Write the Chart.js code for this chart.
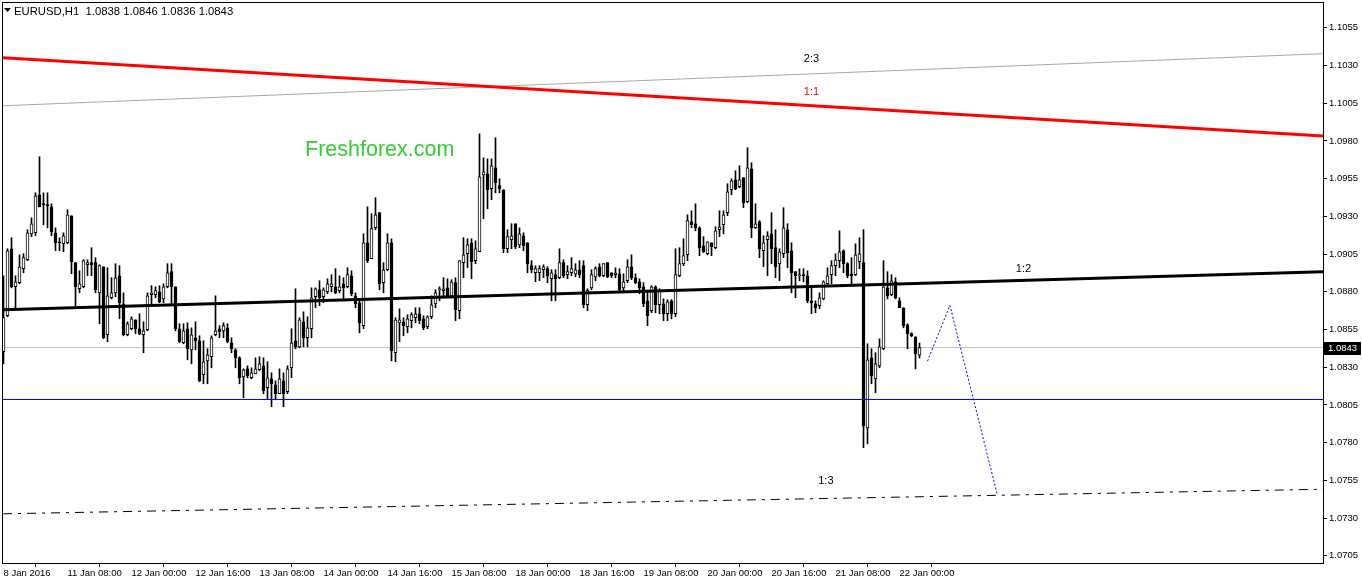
<!DOCTYPE html>
<html>
<head>
<meta charset="utf-8">
<title>EURUSD,H1</title>
<script src="https://cdn.jsdelivr.net/npm/chart.js@4.4.1/dist/chart.umd.min.js"></script>
<style>
  html, body { margin: 0; padding: 0; background: #fff; }
  #wrap { position: relative; width: 1362px; height: 584px; }
</style>
</head>
<body>
<div id="wrap"><canvas id="chart"></canvas></div>
<script>
const symbolTitle = 'EURUSD,H1';
const watermark = 'Freshforex.com';

// hourly candles, 8 Jan 16:00 .. 22 Jan 04:00
const opens = [
  1.08402,1.08641,1.09085,1.08833,1.08860,1.08953,1.09012,1.09184,1.09191,1.09443,
  1.09383,1.09377,1.09363,1.09191,1.09131,1.09118,1.09125,1.09304,1.08993,1.08820,
  1.08833,1.08979,1.08993,1.08993,1.08793,1.08966,1.08515,1.08760,1.08793,1.08906,
  1.08720,1.08515,1.08555,1.08614,1.08555,1.08515,1.08548,1.08780,1.08780,1.08800,
  1.08753,1.08833,1.08933,1.08833,1.08555,1.08462,1.08555,1.08415,1.08495,1.08475,
  1.08250,1.08342,1.08369,1.08515,1.08555,1.08541,1.08561,1.08462,1.08415,1.08362,
  1.08236,1.08289,1.08230,1.08256,1.08283,1.08309,1.08164,1.08223,1.08183,1.08124,
  1.08210,1.08137,1.08296,1.08475,1.08435,1.08601,1.08495,1.08555,1.08767,1.08813,
  1.08767,1.08800,1.08833,1.08833,1.08807,1.08853,1.08833,1.08906,1.08773,1.08727,
  1.08575,1.09125,1.09019,1.09224,1.09324,1.08860,1.08946,1.09125,1.08396,1.08594,
  1.08601,1.08568,1.08608,1.08628,1.08654,1.08621,1.08568,1.08634,1.08720,1.08813,
  1.08807,1.08826,1.08773,1.08860,1.08674,1.08993,1.09052,1.09125,1.09006,1.09065,
  1.09575,1.09582,1.09483,1.09622,1.09503,1.09476,1.09085,1.09145,1.09251,1.09111,
  1.09171,1.09125,1.08973,1.08926,1.08926,1.08946,1.08953,1.08886,1.08913,1.08893,
  1.08993,1.08913,1.08926,1.08919,1.08946,1.08973,1.08714,1.08826,1.08899,1.08966,
  1.08906,1.08993,1.08926,1.08913,1.08919,1.08826,1.08873,1.08966,1.08893,1.08866,
  1.08833,1.08740,1.08674,1.08833,1.08714,1.08720,1.08654,1.08740,1.08654,1.08906,
  1.08986,1.09045,1.09264,1.09251,1.09224,1.09105,1.09052,1.09125,1.09092,1.09211,
  1.09244,1.09324,1.09476,1.09542,1.09496,1.09556,1.09397,1.09615,1.09224,1.09264,
  1.09072,1.09145,1.09184,1.09092,1.08986,1.09052,1.09211,1.09072,1.08933,1.08906,
  1.08913,1.08906,1.08740,1.08720,1.08707,1.08753,1.08853,1.08913,1.08973,1.09006,
  1.09072,1.08986,1.08919,1.08913,1.08999,1.08993,1.07898,1.08362,1.08223,1.08309,
  1.08422,1.08826,1.08780,1.08866,1.08740,1.08694,1.08581,1.08522,1.08502,1.08380
];
const highs = [
  1.08906,1.09085,1.09158,1.08906,1.09045,1.09052,1.09211,1.09290,1.09456,1.09695,
  1.09456,1.09456,1.09383,1.09224,1.09158,1.09191,1.09344,1.09304,1.08993,1.08939,
  1.09012,1.09012,1.09092,1.09026,1.08979,1.08966,1.08959,1.08893,1.08986,1.08973,
  1.08793,1.08601,1.08634,1.08614,1.08654,1.08601,1.08793,1.08840,1.08833,1.08840,
  1.08853,1.08986,1.08986,1.08833,1.08588,1.08588,1.08594,1.08561,1.08601,1.08508,
  1.08475,1.08422,1.08508,1.08773,1.08575,1.08594,1.08588,1.08495,1.08422,1.08369,
  1.08289,1.08309,1.08296,1.08362,1.08369,1.08362,1.08336,1.08263,1.08210,1.08289,
  1.08263,1.08309,1.08555,1.08820,1.08628,1.08667,1.08634,1.08826,1.08826,1.08873,
  1.08826,1.08886,1.08913,1.08953,1.08906,1.08893,1.08959,1.08939,1.08793,1.08753,
  1.09184,1.09363,1.09317,1.09423,1.09324,1.08993,1.09184,1.09151,1.08628,1.08687,
  1.08628,1.08648,1.08661,1.08694,1.08694,1.08641,1.08641,1.08773,1.08813,1.08833,
  1.08893,1.08886,1.08880,1.08893,1.09006,1.09158,1.09151,1.09151,1.09138,1.09847,
  1.09688,1.09681,1.09681,1.09821,1.09549,1.09476,1.09211,1.09251,1.09251,1.09224,
  1.09191,1.09125,1.09006,1.08973,1.08973,1.08979,1.08966,1.08946,1.08946,1.09085,
  1.09012,1.08973,1.09026,1.08986,1.09006,1.09006,1.08820,1.08946,1.08966,1.08986,
  1.08986,1.08993,1.08926,1.08959,1.08953,1.08919,1.09012,1.09045,1.08919,1.08886,
  1.08860,1.08807,1.08840,1.08840,1.08820,1.08753,1.08747,1.08747,1.09085,1.09092,
  1.09151,1.09310,1.09337,1.09383,1.09231,1.09165,1.09131,1.09125,1.09231,1.09337,
  1.09337,1.09516,1.09549,1.09602,1.09635,1.09556,1.09755,1.09655,1.09383,1.09271,
  1.09171,1.09198,1.09324,1.09211,1.09085,1.09357,1.09251,1.09125,1.08933,1.08953,
  1.08953,1.08939,1.08840,1.08740,1.08793,1.08873,1.08959,1.09006,1.09052,1.09204,
  1.09078,1.08993,1.09026,1.09118,1.09158,1.09211,1.08455,1.08422,1.08396,1.08488,
  1.09006,1.08933,1.08913,1.08893,1.08760,1.08694,1.08588,1.08528,1.08502,1.08460
];
const lows = [
  1.08322,1.08634,1.08826,1.08687,1.08853,1.08926,1.09006,1.09165,1.09171,1.09363,
  1.09244,1.09224,1.09171,1.09072,1.09072,1.09065,1.09118,1.08919,1.08707,1.08793,
  1.08826,1.08906,1.08906,1.08793,1.08588,1.08489,1.08469,1.08753,1.08767,1.08621,
  1.08508,1.08508,1.08548,1.08522,1.08515,1.08396,1.08541,1.08707,1.08760,1.08727,
  1.08727,1.08826,1.08714,1.08541,1.08462,1.08455,1.08349,1.08322,1.08415,1.08203,
  1.08190,1.08190,1.08296,1.08508,1.08495,1.08495,1.08462,1.08396,1.08296,1.08190,
  1.08097,1.08230,1.08223,1.08256,1.08276,1.08124,1.08084,1.08038,1.08084,1.08124,
  1.08038,1.08124,1.08230,1.08422,1.08429,1.08435,1.08435,1.08495,1.08694,1.08707,
  1.08727,1.08787,1.08800,1.08787,1.08793,1.08740,1.08826,1.08773,1.08694,1.08528,
  1.08555,1.08993,1.09019,1.09211,1.08813,1.08793,1.08939,1.08342,1.08336,1.08469,
  1.08508,1.08528,1.08561,1.08594,1.08588,1.08548,1.08555,1.08621,1.08694,1.08740,
  1.08773,1.08760,1.08760,1.08608,1.08621,1.08893,1.08959,1.08886,1.08986,1.09065,
  1.09284,1.09350,1.09410,1.09456,1.09456,1.09059,1.09059,1.09085,1.09085,1.09092,
  1.09072,1.08926,1.08926,1.08866,1.08873,1.08893,1.08860,1.08740,1.08740,1.08886,
  1.08893,1.08886,1.08906,1.08899,1.08893,1.08694,1.08674,1.08813,1.08873,1.08899,
  1.08899,1.08893,1.08893,1.08893,1.08807,1.08807,1.08860,1.08880,1.08853,1.08787,
  1.08701,1.08575,1.08661,1.08661,1.08654,1.08608,1.08608,1.08621,1.08634,1.08899,
  1.08973,1.09006,1.09224,1.09204,1.09039,1.09059,1.09045,1.09039,1.09085,1.09165,
  1.09184,1.09304,1.09443,1.09476,1.09489,1.09357,1.09390,1.09158,1.09218,1.09026,
  1.08966,1.08906,1.08986,1.08893,1.08873,1.09026,1.08959,1.08793,1.08760,1.08873,
  1.08866,1.08727,1.08654,1.08661,1.08687,1.08747,1.08840,1.08853,1.08906,1.08959,
  1.08926,1.08893,1.08853,1.08906,1.08953,1.07766,1.07792,1.08190,1.08131,1.08296,
  1.08415,1.08753,1.08773,1.08753,1.08694,1.08561,1.08422,1.08502,1.08289,1.08360
];
const closes = [
  1.08628,1.09072,1.08833,1.08866,1.08966,1.09026,1.09191,1.09251,1.09436,1.09363,
  1.09377,1.09370,1.09198,1.09125,1.09125,1.09171,1.09310,1.08999,1.08833,1.08853,
  1.09006,1.08993,1.08979,1.08813,1.08973,1.08495,1.08773,1.08793,1.08893,1.08727,
  1.08515,1.08588,1.08621,1.08555,1.08522,1.08541,1.08773,1.08793,1.08807,1.08734,
  1.08833,1.08926,1.08833,1.08555,1.08469,1.08541,1.08422,1.08515,1.08475,1.08210,
  1.08336,1.08382,1.08495,1.08541,1.08535,1.08575,1.08469,1.08422,1.08362,1.08230,
  1.08283,1.08243,1.08263,1.08289,1.08322,1.08144,1.08230,1.08190,1.08124,1.08223,
  1.08124,1.08289,1.08462,1.08435,1.08614,1.08495,1.08561,1.08760,1.08820,1.08760,
  1.08813,1.08853,1.08853,1.08793,1.08833,1.08826,1.08913,1.08787,1.08720,1.08594,
  1.09125,1.09006,1.09218,1.09310,1.08853,1.08946,1.09125,1.08409,1.08614,1.08614,
  1.08575,1.08621,1.08648,1.08654,1.08608,1.08561,1.08634,1.08714,1.08793,1.08820,
  1.08820,1.08773,1.08866,1.08681,1.09006,1.09045,1.09111,1.08999,1.09085,1.09562,
  1.09595,1.09476,1.09635,1.09523,1.09483,1.09085,1.09165,1.09171,1.09098,1.09184,
  1.09105,1.08986,1.08946,1.08953,1.08953,1.08966,1.08906,1.08926,1.08886,1.08993,
  1.08906,1.08933,1.08953,1.08946,1.08913,1.08714,1.08807,1.08913,1.08953,1.08906,
  1.08986,1.08899,1.08906,1.08926,1.08813,1.08866,1.08966,1.08893,1.08860,1.08826,
  1.08720,1.08641,1.08833,1.08714,1.08813,1.08654,1.08734,1.08654,1.08913,1.08986,
  1.09039,1.09271,1.09244,1.09224,1.09092,1.09065,1.09131,1.09098,1.09204,1.09231,
  1.09310,1.09463,1.09536,1.09483,1.09542,1.09390,1.09622,1.09224,1.09251,1.09085,
  1.09125,1.09171,1.09085,1.08966,1.09065,1.09224,1.09059,1.08926,1.08906,1.08906,
  1.08906,1.08740,1.08727,1.08694,1.08760,1.08866,1.08906,1.08973,1.09012,1.09065,
  1.08986,1.08906,1.08906,1.09045,1.09052,1.07911,1.08349,1.08243,1.08322,1.08435,
  1.08833,1.08773,1.08873,1.08760,1.08694,1.08575,1.08522,1.08508,1.08389,1.08430
];

// axis ticks
const timeTickBars = [0, 16, 32, 48, 64, 80, 96, 112, 128, 144, 160, 176, 192, 208, 224];
const timeTickLabels = ['8 Jan 2016', '11 Jan 08:00', '12 Jan 00:00', '12 Jan 16:00', '13 Jan 08:00',
  '14 Jan 00:00', '14 Jan 16:00', '15 Jan 08:00', '18 Jan 00:00', '18 Jan 16:00', '19 Jan 08:00',
  '20 Jan 00:00', '20 Jan 16:00', '21 Jan 08:00', '22 Jan 00:00'];
const priceTicks = [1.0705, 1.0730, 1.0755, 1.0780, 1.0805, 1.0830, 1.0855, 1.0880,
  1.0905, 1.0930, 1.0955, 1.0980, 1.1005, 1.1030, 1.1055];

// drawn objects: prices at the left and right edge of the window
const line11 = [1.10351, 1.09832];   // red 1:1
const line23 = [1.10033, 1.10378];   // grey 2:3
const line12 = [1.08681, 1.08933];   // black 1:2
const line13 = [1.07328, 1.07491];   // dash-dot 1:3
const blueLevel = 1.08086;
const forecastBars = [231, 236.6, 248.4];
const forecastPrices = [1.0834, 1.0871, 1.0746];
const lineLabelTexts = ['2:3', '1:1', '1:2', '1:3'];
const lineLabelBars = [202, 202, 255, 205.6];
const lineLabelPrices = [1.10345, 1.10126, 1.08952, 1.07547];

const last = closes.length - 1;
const xMin = -0.125, xMax = 329.875;
const yMin = 1.07002, yMax = 1.10714;
const FONT = '"Liberation Sans", Arial, sans-serif';

const wickData = closes.map((c, i) => ({ x: i, y: [lows[i], highs[i]] }));
const bodyData = closes.map((c, i) => ({ x: i, y: [opens[i], c] }));
const bodyColors = closes.map((c, i) => c >= opens[i] ? '#ffffff' : '#000000');
const edgeLine = (p) => [{ x: xMin, y: p[0] }, { x: xMax, y: p[1] }];

const overlay = {
  id: 'overlay',
  afterDatasetsDraw(chart) {
    const { ctx, chartArea: a, scales: { x, y } } = chart;
    ctx.save();

    ctx.font = '11px ' + FONT;
    ctx.textAlign = 'center';
    ctx.textBaseline = 'middle';
    lineLabelTexts.forEach((t, k) => {
      ctx.fillStyle = t === '1:1' ? '#ff0000' : '#000000';
      ctx.fillText(t, x.getPixelForValue(lineLabelBars[k]), y.getPixelForValue(lineLabelPrices[k]));
    });

    ctx.font = '21.5px ' + FONT;
    ctx.fillStyle = '#32cd32';
    ctx.textAlign = 'left';
    ctx.textBaseline = 'alphabetic';
    ctx.fillText(watermark, a.left + 302, a.top + 153);

    // header: symbol and last bar OHLC
    ctx.fillStyle = '#000';
    ctx.beginPath();
    ctx.moveTo(4, 8); ctx.lineTo(11, 8); ctx.lineTo(7.5, 12);
    ctx.closePath();
    ctx.fill();
    ctx.font = '11.3px ' + FONT;
    const ohlc = [opens[last], highs[last], lows[last], closes[last]].map(v => v.toFixed(4)).join(' ');
    ctx.fillText(symbolTitle + '  ' + ohlc, 14, 14.5);

    // frame
    ctx.strokeStyle = '#000';
    ctx.lineWidth = 1;
    ctx.strokeRect(a.left - 0.5, a.top - 0.5, a.right - a.left + 1, a.bottom - a.top + 1);

    // last price box
    const py = Math.round(y.getPixelForValue(closes[last]));
    ctx.fillStyle = '#000';
    ctx.fillRect(a.right + 1, py - 6, 37, 13);
    ctx.fillStyle = '#fff';
    ctx.font = '9.5px ' + FONT;
    ctx.textBaseline = 'middle';
    ctx.fillText(closes[last].toFixed(4), a.right + 5, py + 0.5);
    ctx.restore();
  }
};

new Chart(document.getElementById('chart'), {
  type: 'bar',
  data: {
    datasets: [
      { type: 'line', data: edgeLine(line11), borderColor: '#ff0000', borderWidth: 3, pointRadius: 0, order: 0 },
      { type: 'line', data: edgeLine(line23), borderColor: '#a9a9a9', borderWidth: 1, pointRadius: 0, order: 0 },
      { type: 'line', data: edgeLine(line12), borderColor: '#000000', borderWidth: 3, pointRadius: 0, order: 0 },
      { type: 'line', data: edgeLine(line13), borderColor: '#000000', borderWidth: 1, borderDash: [9, 6, 3, 6], pointRadius: 0, order: 0 },
      { type: 'line', data: edgeLine([closes[last], closes[last]]), borderColor: '#c0c0c0', borderWidth: 1, pointRadius: 0, order: 4 },
      { type: 'line', data: edgeLine([blueLevel, blueLevel]), borderColor: '#0000c8', borderWidth: 1, pointRadius: 0, order: 0 },
      { type: 'line', data: forecastBars.map((b, k) => ({ x: b, y: forecastPrices[k] })),
        borderColor: '#0000ff', borderWidth: 1, borderDash: [2, 2], pointRadius: 0, order: 0 },
      { type: 'bar', data: wickData, backgroundColor: '#000', barThickness: 1, grouped: false, order: 3 },
      { type: 'bar', data: bodyData, backgroundColor: bodyColors, borderColor: '#000', borderWidth: 1,
        borderSkipped: false, barThickness: 3, minBarLength: 1, grouped: false, order: 2 }
    ]
  },
  options: {
    responsive: true,
    maintainAspectRatio: false,
    animation: false,
    events: [],
    devicePixelRatio: 1,
    layout: { padding: { left: 3, top: 3, right: 0, bottom: 0 } },
    plugins: { legend: { display: false }, tooltip: { enabled: false } },
    scales: {
      x: {
        type: 'linear', min: xMin, max: xMax, offset: false,
        afterFit: s => { s.height = 21; s.paddingLeft = 0; s.paddingRight = 0; },
        afterBuildTicks: s => { s.ticks = timeTickBars.map(v => ({ value: v })); },
        ticks: {
          autoSkip: false, maxRotation: 0, minRotation: 0, align: 'start', padding: 1,
          color: '#000', font: { family: FONT, size: 9.5 },
          callback: (v, i) => timeTickLabels[i]
        },
        grid: { drawOnChartArea: false, drawTicks: true, tickLength: 4, color: '#000' },
        border: { display: false }
      },
      y: {
        type: 'linear', position: 'right', min: yMin, max: yMax,
        afterFit: s => { s.width = 39; s.paddingTop = 0; s.paddingBottom = 0; },
        afterBuildTicks: s => { s.ticks = priceTicks.map(v => ({ value: v })); },
        ticks: {
          padding: 2, color: '#000', font: { family: FONT, size: 9.5 },
          callback: v => v.toFixed(4)
        },
        grid: { drawOnChartArea: false, drawTicks: true, tickLength: 4, color: '#000' },
        border: { display: false }
      }
    }
  },
  plugins: [overlay]
});
</script>
</body>
</html>
